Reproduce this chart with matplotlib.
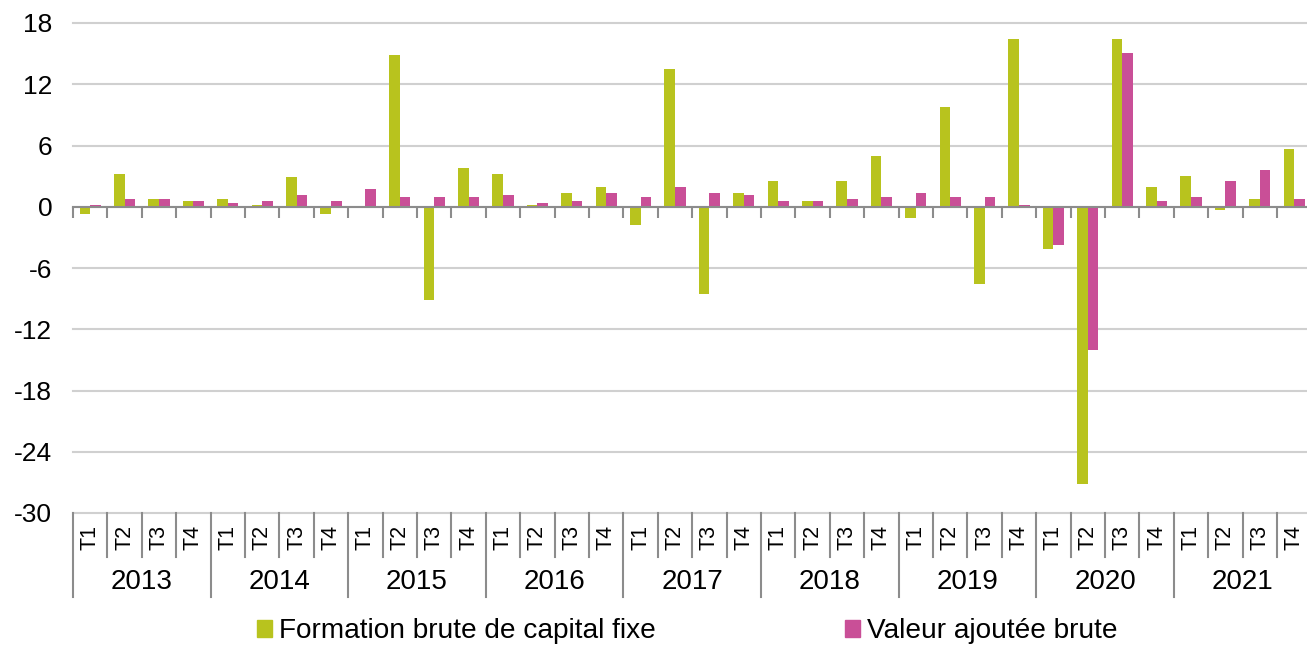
import matplotlib
matplotlib.use("Agg")
import matplotlib.pyplot as plt
from matplotlib.patches import Patch
import numpy as np

plt.rcParams['font.family'] = ['Liberation Sans', 'DejaVu Sans']
plt.rcParams['axes.unicode_minus'] = False

years = ['2013', '2014', '2015', '2016', '2017', '2018', '2019', '2020', '2021']
quarters = ['T1', 'T2', 'T3', 'T4']

# Formation brute de capital fixe (green)
fbcf = [-0.7, 3.25, 0.8, 0.6,
        0.8, 0.2, 2.9, -0.7,
        0.0, 14.9, -9.1, 3.8,
        3.25, 0.2, 1.35, 1.9,
        -1.8, 13.5, -8.5, 1.35,
        2.5, 0.6, 2.5, 4.95,
        -1.1, 9.8, -7.6, 16.4,
        -4.1, -27.2, 16.4, 1.9,
        3.05, -0.3, 0.8, 5.65]

# Valeur ajoutee brute (pink)
vab = [0.2, 0.8, 0.8, 0.6,
       0.4, 0.6, 1.2, 0.6,
       1.7, 1.0, 1.0, 1.0,
       1.2, 0.4, 0.6, 1.35,
       1.0, 1.9, 1.35, 1.2,
       0.6, 0.6, 0.8, 1.0,
       1.35, 1.0, 1.0, 0.2,
       -3.7, -14.0, 15.1, 0.6,
       1.0, 2.5, 3.6, 0.8]

green = '#B8C31E'
pink = '#C94F97'
grey = '#8c8c8c'
W, H = 1307, 647

fig = plt.figure(figsize=(W / 100, H / 100), dpi=100)
ax = fig.add_axes([73 / W, 1 - 513 / H, (1311.4 - 73) / W, (513 - 23) / H])

n = len(fbcf)
x = np.arange(n)
bw = 0.31
ax.bar(x - bw / 2, fbcf, bw, color=green, zorder=3)
ax.bar(x + bw / 2, vab, bw, color=pink, zorder=3)

ax.set_xlim(-0.5, n - 0.5)
ax.set_ylim(-30, 18)
ax.set_yticks(np.arange(-30, 19, 6))
ax.tick_params(axis='y', length=0, pad=15, labelsize=19)
ax.grid(axis='y', color='#d0d0d0', lw=1.5, zorder=0)
for gl in ax.get_ygridlines():
    gl.set_clip_on(False)

for s in ['left', 'right', 'top']:
    ax.spines[s].set_visible(False)
ax.spines['bottom'].set_position(('data', 0))
ax.spines['bottom'].set_color(grey)
ax.spines['bottom'].set_linewidth(1.5)
ax.spines['bottom'].set_zorder(4)
ax.set_xticks(np.arange(n + 1) - 0.5)
ax.set_xticklabels([])
ax.tick_params(axis='x', length=8, width=1.5, color=grey)

# multi-level category axis below the plot
tr = ax.get_xaxis_transform()
for k in range(n + 1):
    bottom = -0.171 if k % 4 == 0 else -0.09
    ax.plot([k - 0.5, k - 0.5], [0, bottom], transform=tr, clip_on=False,
            color=grey, lw=1.5)
for i in range(n):
    ax.text(i, -0.049, quarters[i % 4], rotation=90, ha='center', va='center',
            transform=tr, fontsize=15.5)
for j, y in enumerate(years):
    ax.text(4 * j + 1.5, -0.141, y, ha='center', va='center',
            transform=tr, fontsize=20)

ly = 1 - 631 / H
leg_kw = dict(loc='center left', frameon=False, fontsize=20.2, borderpad=0,
              borderaxespad=0, handlelength=0.55, handleheight=0.55,
              handletextpad=0.25)
fig.legend(handles=[Patch(color=green, label='Formation brute de capital fixe')],
           bbox_to_anchor=(257 / W, ly), **leg_kw)
fig.legend(handles=[Patch(color=pink, label='Valeur ajoutée brute')],
           bbox_to_anchor=(845 / W, ly), **leg_kw)

fig.savefig('out.png', dpi=100)
